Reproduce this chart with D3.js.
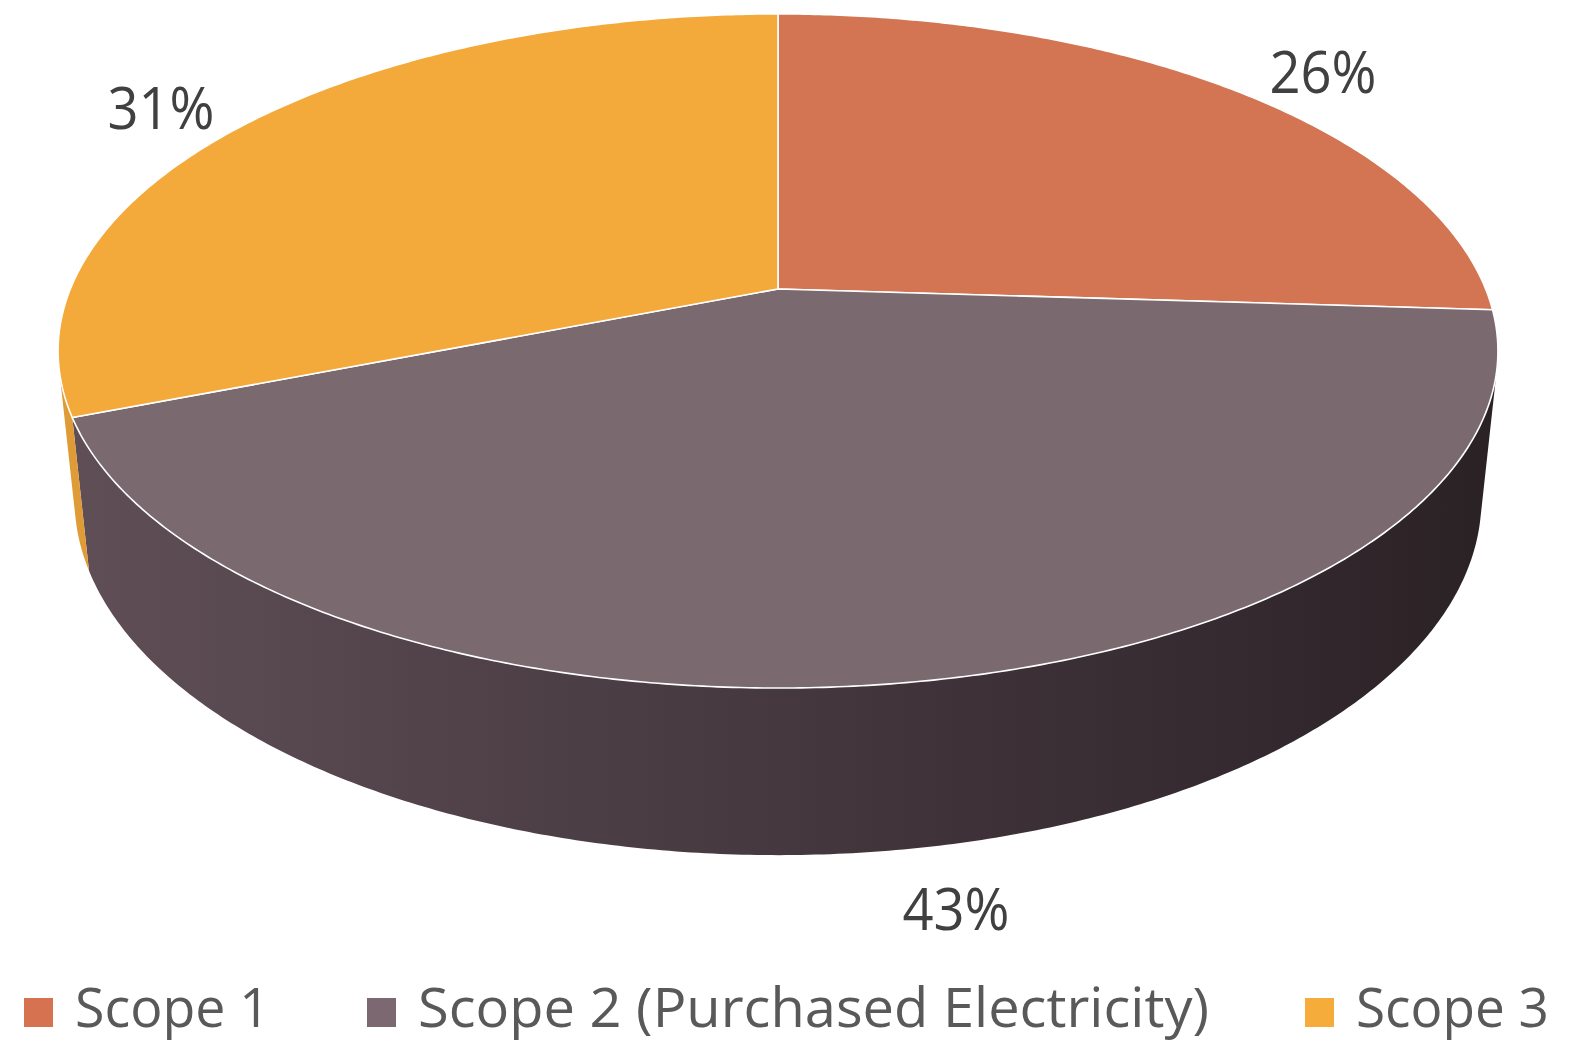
<!DOCTYPE html>
<html>
<head>
<meta charset="utf-8">
<script src="https://cdn.jsdelivr.net/npm/d3@7"></script>
<style>
  body { margin: 0; background: #fff; }
  svg { display: block; }
</style>
</head>
<body>
<script>
// data
var categories = ["Scope 1", "Scope 2 (Purchased Electricity)", "Scope 3"];
var values = [26, 43, 31];
var pctLabels = ["26%", "43%", "31%"];
var colors = ["#d37453", "#7b6970", "#f4a93b"];
var legendColors = ["#d6724f", "#7c6870", "#f6ac3b"];

var w = 1583, h = 1044;

// perspective camera for the 3d pie
var cx = 778, cy = 289,
    focal = 3418, dist = 4.83,
    elev = 27.4 * Math.PI / 180,
    thick = 0.2375;
var se = Math.sin(elev), ce = Math.cos(elev);

// project a point on the disc (angle from 12 o'clock clockwise, radius, depth below top)
function project(theta, r, depth) {
    var st = Math.sin(theta), ct = Math.cos(theta);
    var xc = r * st,
        yc = -depth * ce + r * ct * se,
        zc = depth * se + dist + r * ct * ce;
    return [cx + focal * xc / zc, cy - focal * yc / zc];
}

function arcPoints(a0, a1, r, depth) {
    var n = Math.max(2, Math.ceil(Math.abs(a1 - a0) / (Math.PI / 360)));
    return d3.range(n + 1).map(function(i) {
        return project(a0 + (a1 - a0) * i / n, r, depth);
    });
}

var line = d3.line();

var svg = d3.select("body")
    .append("svg")
    .attr("width", w)
    .attr("height", h);

var defs = svg.append("defs");
var grad = defs.append("linearGradient")
    .attr("id", "wallGrad")
    .attr("gradientUnits", "userSpaceOnUse")
    .attr("x1", 80).attr("y1", 0)
    .attr("x2", 1480).attr("y2", 0);
grad.append("stop").attr("offset", 0).attr("stop-color", "#5f4e56");
grad.append("stop").attr("offset", 0.5).attr("stop-color", "#45383f");
grad.append("stop").attr("offset", 1).attr("stop-color", "#2b2226");

var pie = d3.pie().sort(null).startAngle(0).endAngle(2 * Math.PI);
var arcs = pie(values);

// outer wall is only visible where it faces the camera
var visA = Math.acos(-1 / (dist * ce)),
    visB = 2 * Math.PI - visA;

var g = svg.append("g");

// walls
arcs.forEach(function(d, i) {
    var a0 = Math.max(d.startAngle, visA),
        a1 = Math.min(d.endAngle, visB);
    if (a1 <= a0) return;
    var pts = arcPoints(a0, a1, 1, 0).concat(arcPoints(a1, a0, 1, thick));
    g.append("path")
        .attr("d", line(pts) + "Z")
        .attr("fill", i === 1 ? "url(#wallGrad)" : d3.color(colors[i]).darker(0.25))
        .attr("stroke", "none");
});

// tops
arcs.forEach(function(d, i) {
    var pts = [project(0, 0, 0)].concat(arcPoints(d.startAngle, d.endAngle, 1, 0));
    g.append("path")
        .attr("d", line(pts) + "Z")
        .attr("fill", colors[i])
        .attr("stroke", "#ffffff")
        .attr("stroke-width", 1.6)
        .attr("stroke-linejoin", "round");
});

// percentage labels
var labelPos = [[1323, 93], [956, 930], [161, 129]];
svg.append("g").selectAll("text")
    .data(pctLabels)
    .enter()
    .append("text")
    .attr("x", function(d, i) { return labelPos[i][0]; })
    .attr("y", function(d, i) { return labelPos[i][1]; })
    .attr("text-anchor", "middle")
    .attr("font-family", "'Open Sans', sans-serif")
    .attr("font-size", 59)
    .attr("fill", "#404040")
    .attr("textLength", 107)
    .attr("lengthAdjust", "spacingAndGlyphs")
    .text(function(d) { return d; });

// legend
var legendX = [24, 367, 1305],
    legendW = [195, 791, 193];
var legend = svg.append("g").attr("class", "legend");
var item = legend.selectAll("g")
    .data(categories)
    .enter()
    .append("g")
    .attr("transform", function(d, i) { return "translate(" + legendX[i] + ",998)"; });

item.append("rect")
    .attr("width", 29)
    .attr("height", 29)
    .attr("fill", function(d, i) { return legendColors[i]; });

item.append("text")
    .attr("x", 51)
    .attr("y", 29)
    .attr("font-family", "'Open Sans', sans-serif")
    .attr("font-size", 54)
    .attr("fill", "#595959")
    .attr("textLength", function(d, i) { return legendW[i]; })
    .attr("lengthAdjust", "spacingAndGlyphs")
    .text(function(d) { return d; });
</script>
</body>
</html>
